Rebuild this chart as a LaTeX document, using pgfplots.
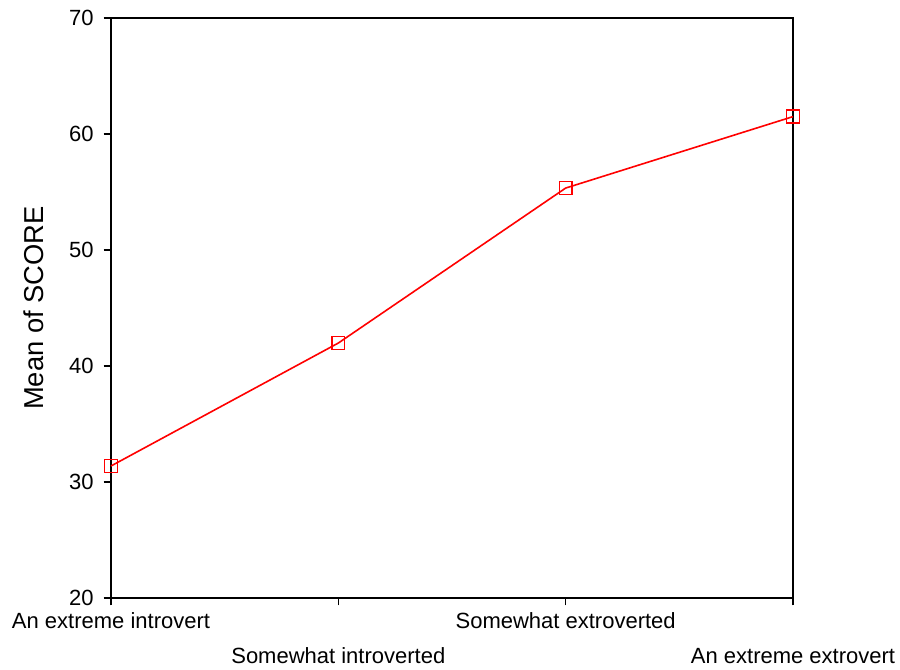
\documentclass[border=0pt]{standalone}
\usepackage{pgfplots}
\pgfplotsset{compat=1.18}
\usepackage{fontspec}
\setmainfont{Liberation Sans}
\begin{document}
\begin{tikzpicture}[x=0.75pt,y=0.75pt]
\useasboundingbox (0,0) rectangle (900,669);
\begin{axis}[
  at={(111pt*0.75,71pt*0.75)}, anchor=south west,
  scale only axis, width=682*0.75pt, height=580*0.75pt,
  xmin=0, xmax=3, ymin=20, ymax=70,
  axis line style={line width=1.4pt},
  every tick/.style={black, line width=1.1pt},
  tick align=outside, major tick length=5.5pt,
  xtick pos=bottom, ytick pos=left,
  xtick={0,1,2,3},
  xticklabels={An extreme introvert, \strut\\[6pt]Somewhat introverted, Somewhat extroverted, \strut\\[6pt]An extreme extrovert},
  xticklabel style={align=center, font=\fontsize{16.5}{19}\selectfont, anchor=north, yshift=-2pt},
  ytick={20,30,40,50,60,70},
  yticklabel style={font=\fontsize{16.5}{19}\selectfont, xshift=-4pt},
  /pgf/number format/assume math mode=true,
  ylabel={Mean of SCORE},
  ylabel style={font=\fontsize{20.5}{24}\selectfont, yshift=12pt},
  clip=false,
]
\addplot[red, line width=1.2pt, mark=square, mark size=4.8pt, mark options={line width=1.1pt, fill=none}]
  coordinates {(0,31.38) (1,41.98) (2,55.34) (3,61.5)};
\end{axis}
\end{tikzpicture}
\end{document}
